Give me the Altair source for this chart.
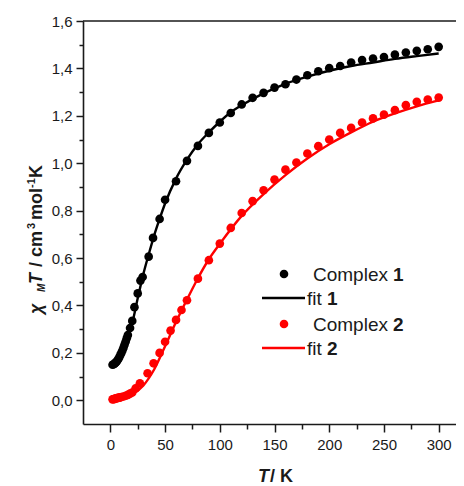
import altair as alt
import pandas as pd

# ---- data ----
T1 = [2, 3, 4, 5, 6, 7, 8, 9, 10, 11, 12, 13, 14, 15, 16, 18, 20, 22, 25, 27.5, 29.5,
      35, 39, 45, 50, 60, 70, 80, 90, 100, 110, 120, 130, 140, 150, 160, 170, 180, 190,
      200, 210, 220, 230, 240, 250, 260, 270, 280, 290, 300]
X1 = [0.150, 0.152, 0.155, 0.160, 0.165, 0.172, 0.180, 0.190, 0.200, 0.210, 0.222, 0.235,
      0.248, 0.262, 0.275, 0.305, 0.335, 0.393, 0.451, 0.505, 0.520,
      0.606, 0.685, 0.765, 0.846, 0.924, 1.010, 1.073, 1.128, 1.172, 1.212, 1.248, 1.276,
      1.297, 1.319, 1.333, 1.353, 1.371, 1.388, 1.401, 1.410, 1.425, 1.435, 1.442, 1.448,
      1.458, 1.467, 1.474, 1.481, 1.491]

T2 = [2, 3, 4, 5, 6, 7, 8, 9, 10, 12, 14, 16, 18, 20, 23, 27, 34, 39.5, 45, 50, 55, 60,
      65, 70, 80, 90, 100, 110, 120, 130, 140, 150, 160, 170, 180, 190, 200, 210, 220,
      230, 240, 250, 260, 270, 280, 290, 300]
X2 = [0.004, 0.005, 0.006, 0.008, 0.009, 0.010, 0.011, 0.012, 0.014, 0.016, 0.019, 0.023,
      0.028, 0.033, 0.050, 0.072, 0.114, 0.156, 0.200, 0.247, 0.294, 0.339,
      0.381, 0.422, 0.513, 0.591, 0.661, 0.727, 0.790, 0.840, 0.886, 0.931, 0.973, 1.003,
      1.041, 1.072, 1.100, 1.128, 1.149, 1.172, 1.189, 1.205, 1.224, 1.245, 1.259, 1.269,
      1.277]

FT1 = [2, 5, 10, 15, 20, 25, 30, 35, 40, 45, 50, 60, 70, 80, 90, 100, 110, 120, 140, 160,
       180, 200, 220, 240, 260, 280, 300]
FX1 = [0.148, 0.155, 0.185, 0.245, 0.325, 0.430, 0.530, 0.615, 0.695, 0.765, 0.830, 0.935,
       1.015, 1.080, 1.130, 1.175, 1.215, 1.245, 1.295, 1.335, 1.365, 1.390, 1.410, 1.425,
       1.440, 1.452, 1.463]

FT2 = [2, 10, 20, 30, 40, 50, 60, 70, 80, 90, 100, 120, 140, 160, 180, 200, 220, 240, 260,
       280, 300]
FX2 = [0.000, 0.005, 0.025, 0.062, 0.130, 0.228, 0.330, 0.425, 0.515, 0.595, 0.660, 0.778,
       0.870, 0.950, 1.020, 1.080, 1.130, 1.175, 1.210, 1.240, 1.265]

SERIES = ["Complex 1", "Complex 2"]
FITS = ["fit 1", "fit 2"]
X_TICKS = list(range(0, 301, 25))
Y_TICKS = [round(i * 0.1, 1) for i in range(0, 17)]

W, H = 373, 403
FONT = "Liberation Sans"
INK = "#1a1a1a"

pts = pd.DataFrame({"T": T1 + T2, "chi": X1 + X2,
                    "s": [SERIES[0]] * len(T1) + [SERIES[1]] * len(T2)})
fits = pd.DataFrame({"T": FT1 + FT2, "chi": FX1 + FX2,
                     "s": [FITS[0]] * len(FT1) + [FITS[1]] * len(FT2)})

x_axis = alt.Axis(
    values=X_TICKS, title=None, grid=False,
    labelExpr="datum.value % 50 == 0 ? datum.label : ''",
    tickSize={"condition": {"test": "datum.value % 50 == 0", "value": 8}, "value": 5},
    domainColor=INK, tickColor=INK, domainWidth=1.6, tickWidth=1.5,
    labelFont=FONT, labelFontSize=15, labelColor=INK, labelPadding=5,
)
y_axis = alt.Axis(
    values=Y_TICKS, title=None, grid=False,
    labelExpr="round(datum.value*10) % 2 == 0 ? replace(format(datum.value, '.1f'), '.', ',') : ''",
    tickSize={"condition": {"test": "round(datum.value*10) % 2 == 0", "value": 7}, "value": 4},
    domainColor=INK, tickColor=INK, domainWidth=1.6, tickWidth=1.5,
    labelFont=FONT, labelFontSize=15, labelColor=INK, labelPadding=4,
)
xs = alt.Scale(domain=[-25, -25 + W / 1.0944], nice=False, zero=False)
ys = alt.Scale(domain=[-0.1, 1.6], nice=False, zero=False)

points = alt.Chart(pts).mark_circle(size=75, opacity=1).encode(
    x=alt.X("T:Q", scale=xs, axis=x_axis),
    y=alt.Y("chi:Q", scale=ys, axis=y_axis),
    color=alt.Color("s:N", scale=alt.Scale(domain=SERIES, range=["#000000", "#ff0000"]), legend=None),
)
lines = alt.Chart(fits).mark_line(strokeWidth=2.4, interpolate="monotone").encode(
    x=alt.X("T:Q", scale=xs, axis=x_axis),
    y=alt.Y("chi:Q", scale=ys, axis=y_axis),
    color=alt.Color("s:N", scale=alt.Scale(domain=FITS, range=["#000000", "#ff0000"]), legend=None),
    detail="s:N",
)

one = pd.DataFrame({"a": [0]})
layers = [points, lines]

# top frame line
layers.append(alt.Chart(one).mark_rule(color=INK, strokeWidth=1.6).encode(
    x=alt.value(0), x2=alt.value(W), y=alt.value(0)))

def txt(t, x, y, size=19, weight="normal", style="normal", angle=0):
    return alt.Chart(one).mark_text(
        text=t, font=FONT, fontSize=size, fontWeight=weight, fontStyle=style,
        align="left", baseline="alphabetic", angle=angle, color=INK,
    ).encode(x=alt.value(x), y=alt.value(y))

# legend
for i, (name, col) in enumerate(zip(SERIES, ["#000000", "#ff0000"])):
    cy = 253 + i * 50
    layers.append(alt.Chart(one).mark_circle(size=75, opacity=1, color=col).encode(
        x=alt.value(201), y=alt.value(cy)))
    layers.append(txt("Complex", 230, cy + 7))
    layers.append(txt(name.split()[1], 310, cy + 7, weight="bold"))
    ly = cy + 24
    layers.append(alt.Chart(one).mark_rule(color=col, strokeWidth=2.4).encode(
        x=alt.value(179), x2=alt.value(222), y=alt.value(ly)))
    layers.append(txt("fit", 224, ly + 7))
    layers.append(txt(FITS[i].split()[1], 244, ly + 7, weight="bold"))

# x title
layers.append(txt("T", 175, 461, size=18, weight="bold", style="italic"))
layers.append(txt("/ K", 187, 461, size=18, weight="bold"))

# y title (rotated pieces)
layers.append(txt("χ", -41, 293, size=18, weight="bold", style="italic", angle=270))
layers.append(txt("M", -38, 271, size=10, weight="bold", style="italic", angle=270))
layers.append(txt("T", -41, 263, size=18, weight="bold", style="italic", angle=270))
layers.append(txt("/ cm", -41, 246, size=18, weight="bold", angle=270))
layers.append(txt("3", -48, 208, size=11, weight="bold", angle=270))
layers.append(txt("mol", -41, 199, size=18, weight="bold", angle=270))
layers.append(txt("-1", -48, 167, size=11, weight="bold", angle=270))
layers.append(txt("K", -41, 157, size=18, weight="bold", angle=270))

chart = alt.layer(*layers).properties(
    width=W, height=H,
    autosize=alt.AutoSizeParams(type="none"),
    padding={"left": 75, "top": 13, "right": 0, "bottom": 62},
    background="white",
).configure_view(stroke=None)

chart.save("out.html", embed_options={"renderer": "svg", "actions": False})
